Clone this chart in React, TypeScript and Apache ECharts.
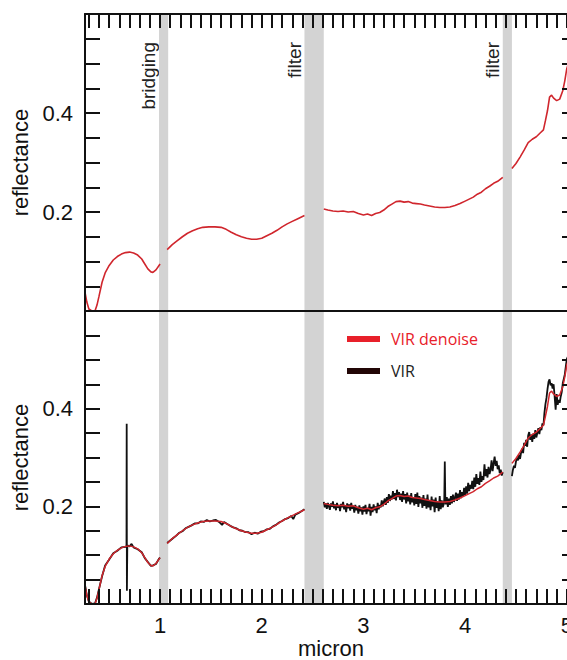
import React, { useEffect, useRef } from "react";
import * as echarts from "echarts";

// ---- data (micron, reflectance) ----
const denoiseX = [
  0.26, 0.28, 0.3, 0.33, 0.36, 0.38, 0.4, 0.43, 0.46, 0.5, 0.54, 0.58, 0.62, 0.66, 0.7, 0.74, 0.78, 0.82, 0.85, 0.88, 0.91, 0.93, 0.96, 0.99, 1.0,
  1.03,
  1.07, 1.12, 1.17, 1.22, 1.27, 1.32, 1.37, 1.42, 1.48, 1.54, 1.6, 1.65, 1.7, 1.75, 1.8, 1.85, 1.9, 1.95, 2.0, 2.05, 2.1, 2.15, 2.2, 2.25, 2.3, 2.35, 2.4, 2.42,
  2.5,
  2.61, 2.65, 2.7, 2.75, 2.8, 2.85, 2.9, 2.95, 3.0, 3.04, 3.08, 3.12, 3.16, 3.2, 3.24, 3.28, 3.32, 3.36, 3.4, 3.44, 3.48, 3.52, 3.56, 3.6, 3.65, 3.7, 3.75, 3.8, 3.85, 3.9, 3.95, 4.0, 4.04, 4.08, 4.12, 4.16, 4.2, 4.24, 4.28, 4.32, 4.37,
  4.41,
  4.46, 4.5, 4.54, 4.58, 4.62, 4.66, 4.7, 4.74, 4.77, 4.79, 4.81, 4.83, 4.85, 4.87, 4.9, 4.93, 4.96, 4.98, 5.0, 5.05,
];
const denoiseY: (number | string)[] = [
  0.04, 0.018, 0.004, 0.0, 0.0, 0.012, 0.03, 0.058, 0.077, 0.092, 0.103, 0.11, 0.115, 0.118, 0.119, 0.117, 0.113, 0.105, 0.095, 0.085, 0.079, 0.078, 0.083, 0.092, 0.095,
  "-",
  0.124, 0.134, 0.142, 0.15, 0.157, 0.162, 0.166, 0.169, 0.17, 0.17, 0.169, 0.165, 0.159, 0.154, 0.15, 0.147, 0.145, 0.145, 0.147, 0.152, 0.157, 0.163, 0.17, 0.176, 0.181, 0.186, 0.191, 0.193,
  "-",
  0.206, 0.204, 0.202, 0.201, 0.202, 0.2, 0.201, 0.197, 0.194, 0.196, 0.193, 0.197, 0.199, 0.204, 0.211, 0.216, 0.221, 0.222, 0.22, 0.221, 0.218, 0.217, 0.216, 0.214, 0.212, 0.21, 0.209, 0.209, 0.21, 0.213, 0.217, 0.222, 0.226, 0.23, 0.236, 0.24, 0.247, 0.252, 0.258, 0.262, 0.27,
  "-",
  0.288, 0.298, 0.311, 0.325, 0.34, 0.347, 0.352, 0.36, 0.366, 0.385, 0.405, 0.432, 0.436, 0.43, 0.425, 0.428, 0.445, 0.465, 0.49, 0.52,
];

const virX = [
  0.26, 0.28, 0.3, 0.33, 0.36, 0.38, 0.4, 0.43, 0.46, 0.5, 0.54, 0.58, 0.62, 0.66, 0.67, 0.672, 0.674, 0.678, 0.7, 0.72, 0.74, 0.78, 0.82, 0.85, 0.88, 0.91, 0.93, 0.96, 0.99, 1.0,
  1.03,
  1.07, 1.1, 1.13, 1.16, 1.19, 1.22, 1.25, 1.28, 1.31, 1.34, 1.37, 1.4, 1.43, 1.46, 1.49, 1.52, 1.55, 1.58, 1.61, 1.63, 1.66, 1.69, 1.72, 1.75, 1.78, 1.81, 1.84, 1.87, 1.9, 1.93, 1.96, 1.99, 2.02, 2.05, 2.08, 2.11, 2.14, 2.17, 2.2, 2.23, 2.26, 2.29, 2.31, 2.33, 2.36, 2.39, 2.42,
  2.5,
  2.61, 2.62, 2.63, 2.64, 2.65, 2.66, 2.67, 2.68, 2.69, 2.7, 2.71, 2.72, 2.73, 2.74, 2.75, 2.76, 2.77, 2.78, 2.79, 2.8, 2.81, 2.82, 2.83, 2.84, 2.85, 2.86, 2.87, 2.88, 2.89, 2.9,
  2.91, 2.92, 2.93, 2.94, 2.95, 2.96, 2.97, 2.98, 2.99, 3.0, 3.01, 3.02, 3.03, 3.04, 3.05, 3.06, 3.07, 3.08, 3.09, 3.1, 3.11, 3.12, 3.13, 3.14, 3.15, 3.16, 3.17, 3.18, 3.19, 3.2,
  3.21, 3.22, 3.23, 3.24, 3.25, 3.26, 3.27, 3.28, 3.29, 3.3, 3.31, 3.32, 3.33, 3.34, 3.35, 3.36, 3.37, 3.38, 3.39, 3.4, 3.41, 3.42, 3.43, 3.44, 3.45, 3.46, 3.47, 3.48, 3.49, 3.5,
  3.51, 3.52, 3.53, 3.54, 3.55, 3.56, 3.57, 3.58, 3.59, 3.6, 3.61, 3.62, 3.63, 3.64, 3.65, 3.66, 3.67, 3.68, 3.69, 3.7, 3.71, 3.72, 3.73, 3.74, 3.75, 3.76, 3.77, 3.78, 3.79, 3.795,
  3.8, 3.805, 3.81, 3.82, 3.83, 3.84, 3.85, 3.86, 3.87, 3.88, 3.89, 3.9, 3.91, 3.92, 3.93, 3.94, 3.95, 3.96, 3.97, 3.98, 3.99, 4.0,
  4.01, 4.02, 4.03, 4.04, 4.05, 4.06, 4.07, 4.08, 4.09, 4.1, 4.11, 4.12, 4.13, 4.14, 4.15, 4.16, 4.17, 4.18, 4.19, 4.2, 4.21, 4.22, 4.23, 4.24, 4.25, 4.26, 4.27, 4.28, 4.29, 4.3,
  4.31, 4.32, 4.33, 4.34, 4.35, 4.36, 4.37,
  4.41,
  4.46, 4.47, 4.48, 4.49, 4.5, 4.51, 4.52, 4.53, 4.54, 4.55, 4.56, 4.57, 4.58, 4.59, 4.6, 4.61, 4.62, 4.63, 4.64, 4.65, 4.66, 4.67, 4.68, 4.69, 4.7, 4.71, 4.72, 4.73, 4.74, 4.75,
  4.76, 4.77, 4.78, 4.79, 4.8, 4.81, 4.82, 4.83, 4.84, 4.85, 4.86, 4.87, 4.88, 4.89, 4.9, 4.91, 4.92, 4.93, 4.94, 4.95, 4.96, 4.97, 4.98, 4.99, 5.0, 5.02, 5.05,
];
const virY: (number | string)[] = [
  0.041, 0.018, 0.005, 0.0, 0.001, 0.013, 0.031, 0.057, 0.079, 0.091, 0.104, 0.109, 0.116, 0.117, 0.118, 0.369, 0.027, 0.12, 0.118, 0.123, 0.116, 0.112, 0.106, 0.094, 0.086, 0.078, 0.079, 0.082, 0.093, 0.095,
  "-",
  0.125, 0.13, 0.135, 0.14, 0.146, 0.149, 0.155, 0.158, 0.161, 0.165, 0.165, 0.169, 0.168, 0.172, 0.169, 0.171, 0.172, 0.168, 0.162, 0.168, 0.164, 0.16, 0.157, 0.155, 0.151, 0.15, 0.147, 0.147, 0.143, 0.146, 0.144, 0.148, 0.149, 0.153, 0.154, 0.159, 0.162, 0.167, 0.17, 0.174, 0.176, 0.18, 0.174, 0.183, 0.186, 0.19, 0.194,
  "-",
  0.209, 0.198, 0.206, 0.195, 0.207, 0.2, 0.193, 0.206, 0.199, 0.21, 0.196, 0.204, 0.192, 0.207, 0.197, 0.203, 0.19, 0.205, 0.198, 0.209, 0.194, 0.202, 0.188, 0.206, 0.196, 0.204, 0.191, 0.207, 0.195, 0.201,
  0.187, 0.203, 0.192, 0.199, 0.185, 0.202, 0.19, 0.198, 0.183, 0.2, 0.189, 0.203, 0.184, 0.197, 0.19, 0.205, 0.181, 0.199, 0.188, 0.204, 0.192, 0.2, 0.186, 0.207, 0.194, 0.203, 0.198, 0.212, 0.2, 0.209,
  0.216, 0.203, 0.219, 0.207, 0.225, 0.211, 0.222, 0.214, 0.231, 0.215, 0.227, 0.212, 0.234, 0.219, 0.229, 0.213, 0.226, 0.209, 0.231, 0.214, 0.225, 0.206, 0.228, 0.21, 0.222, 0.204, 0.227, 0.208, 0.219, 0.202,
  0.225, 0.205, 0.228, 0.199, 0.221, 0.206, 0.218, 0.197, 0.223, 0.201, 0.216, 0.195, 0.224, 0.198, 0.213, 0.192, 0.22, 0.2, 0.214, 0.188, 0.218, 0.197, 0.209, 0.19, 0.221, 0.194, 0.212, 0.198, 0.205, 0.215,
  0.292, 0.214, 0.204, 0.219, 0.199, 0.216, 0.203, 0.221, 0.206, 0.224, 0.209, 0.218, 0.228, 0.211, 0.226, 0.214, 0.233, 0.217, 0.229, 0.22, 0.238, 0.223,
  0.241, 0.226, 0.248, 0.231, 0.244, 0.236, 0.252, 0.235, 0.259, 0.24, 0.266, 0.246, 0.258, 0.244, 0.271, 0.25, 0.262, 0.254, 0.286, 0.262, 0.276, 0.259, 0.281, 0.266, 0.275, 0.294, 0.272, 0.288, 0.302, 0.283,
  0.293, 0.276, 0.284, 0.268, 0.275, 0.263, 0.27,
  "-",
  0.262, 0.275, 0.283, 0.279, 0.292, 0.3, 0.294, 0.306, 0.297, 0.31, 0.318, 0.309, 0.33, 0.324, 0.336, 0.322, 0.345, 0.352, 0.336, 0.347, 0.332, 0.349, 0.338, 0.356, 0.341, 0.35, 0.36, 0.348, 0.362, 0.356,
  0.37, 0.366, 0.392, 0.41, 0.422, 0.44, 0.455, 0.46, 0.448, 0.452, 0.441, 0.45, 0.425, 0.398, 0.43, 0.408, 0.418, 0.412, 0.425, 0.434, 0.452, 0.461, 0.47, 0.486, 0.502, 0.51, 0.53,
];

const xLabelValues = [1, 2, 3, 4, 5];
const yLabelValues = [0.2, 0.4];
const bands = [
  [0.99, 1.08],
  [2.42, 2.61],
  [4.37, 4.46],
];
const bandLabels = ["bridging", "filter", "filter"];

const X_MIN = 0.262;
const X_MAX = 5.1;
const Y_MIN = 0;
const Y_MAX = 0.6;

const xMinorTicks: number[] = [];
for (let i = 3; i <= 51; i++) xMinorTicks.push(Math.round(i * 10) / 100);
const yMinorTicks: number[] = [];
for (let i = 1; i <= 11; i++) yMinorTicks.push(Math.round(i * 5) / 100);

const FONT = '"Liberation Sans", Arial, sans-serif';
const INK = "#111";
const RED = "#d0262d";

const pairs = (xs: number[], ys: (number | string)[]) => xs.map((x, i) => [x, ys[i]]);

const lineStyle = { color: INK, width: 2 };
const tickStyle = { color: INK, width: 2 };

function xAxis(gridIndex: number, position: string, ticks: boolean, labels: boolean, length: number) {
  const a: any = {
    type: "value",
    gridIndex,
    position,
    min: X_MIN,
    max: X_MAX,
    z: 10,
    axisLine: { show: true, onZero: false, lineStyle },
    axisTick: { show: ticks, inside: true, length, lineStyle: tickStyle, customValues: xMinorTicks },
    axisLabel: {
      show: labels,
      customValues: xLabelValues,
      formatter: (v: number) => String(Math.round(v)),
      color: INK,
      fontSize: 22,
      fontFamily: FONT,
      margin: 10,
    },
    splitLine: { show: false },
  };
  if (labels) {
    a.name = "micron";
    a.nameLocation = "middle";
    a.nameGap = 33;
    a.nameTextStyle = { color: INK, fontSize: 22, fontFamily: FONT };
  }
  return a;
}

function yAxis(gridIndex: number, position: string, labels: boolean) {
  const a: any = {
    type: "value",
    gridIndex,
    position,
    min: Y_MIN,
    max: Y_MAX,
    z: 10,
    axisLine: { show: true, onZero: false, lineStyle },
    axisTick: { show: true, inside: true, length: 15, lineStyle: tickStyle, customValues: yMinorTicks },
    axisLabel: {
      show: labels,
      customValues: yLabelValues,
      formatter: (v: number) => v.toFixed(1),
      color: INK,
      fontSize: 22,
      fontFamily: FONT,
      margin: 12,
    },
    splitLine: { show: false },
  };
  if (labels) {
    a.name = "reflectance";
    a.nameLocation = "middle";
    a.nameGap = 50;
    a.nameTextStyle = { color: INK, fontSize: 22, fontFamily: FONT };
  }
  return a;
}

const bandArea = {
  silent: true,
  itemStyle: { color: "#d3d3d3" },
  label: { show: false },
  data: bands.map(([a, b]) => [{ xAxis: a }, { xAxis: b }]),
};

export default function App() {
  const ref = useRef<HTMLDivElement>(null);
  useEffect(() => {
    if (!ref.current) return;
    const chart = echarts.init(ref.current, undefined, { renderer: "svg" });
    const labelPos = [
      [148, 42],
      [294, 42],
      [492, 42],
    ];
    chart.setOption({
      animation: false,
      backgroundColor: "#fff",
      grid: [
        { left: 85, right: 0, top: 14, height: 297 },
        { left: 85, right: 0, top: 311, height: 300 },
      ],
      xAxis: [
        xAxis(0, "bottom", false, false, 14),
        xAxis(0, "top", true, false, 14),
        xAxis(1, "bottom", true, true, 15),
        xAxis(1, "top", false, false, 14),
      ],
      yAxis: [yAxis(0, "left", true), yAxis(0, "right", false), yAxis(1, "left", true), yAxis(1, "right", false)],
      legend: {
        orient: "vertical",
        left: 347,
        top: 329,
        padding: 0,
        itemWidth: 33,
        itemHeight: 6,
        itemGap: 12,
        icon: "rect",
        textStyle: { fontFamily: '"Open Sans", sans-serif', fontSize: 16, lineHeight: 20, padding: [0, 0, 0, 6] },
        data: [
          { name: "VIR denoise", itemStyle: { color: "#e8202a" }, textStyle: { color: "#e8202a" } },
          { name: "VIR", itemStyle: { color: "#220606" }, textStyle: { color: "#222" } },
        ],
      },
      graphic: bandLabels.map((t, i) => ({
        type: "text",
        x: labelPos[i][0],
        y: labelPos[i][1],
        rotation: Math.PI / 2,
        style: {
          text: t,
          fill: "#222",
          fontSize: 19,
          fontFamily: FONT,
          align: "right",
          verticalAlign: "middle",
        },
      })),
      series: [
        {
          name: "VIR denoise",
          type: "line",
          xAxisIndex: 0,
          yAxisIndex: 0,
          data: pairs(denoiseX, denoiseY),
          showSymbol: false,
          connectNulls: false,
          lineStyle: { color: RED, width: 1.6 },
          itemStyle: { color: RED },
          markArea: bandArea,
        },
        {
          name: "VIR",
          type: "line",
          xAxisIndex: 2,
          yAxisIndex: 2,
          data: pairs(virX, virY),
          showSymbol: false,
          connectNulls: false,
          lineStyle: { color: INK, width: 1.8 },
          itemStyle: { color: INK },
          markArea: bandArea,
        },
        {
          name: "VIR denoise",
          type: "line",
          xAxisIndex: 2,
          yAxisIndex: 2,
          data: pairs(denoiseX, denoiseY),
          showSymbol: false,
          connectNulls: false,
          lineStyle: { color: RED, width: 1.5 },
          itemStyle: { color: RED },
        },
      ],
    });
    return () => chart.dispose();
  }, []);
  return (
    <div style={{ position: "fixed", left: 0, top: 0, width: 567, height: 660, overflow: "hidden" }}>
      <div ref={ref} style={{ width: 577, height: 660 }} />
    </div>
  );
}
